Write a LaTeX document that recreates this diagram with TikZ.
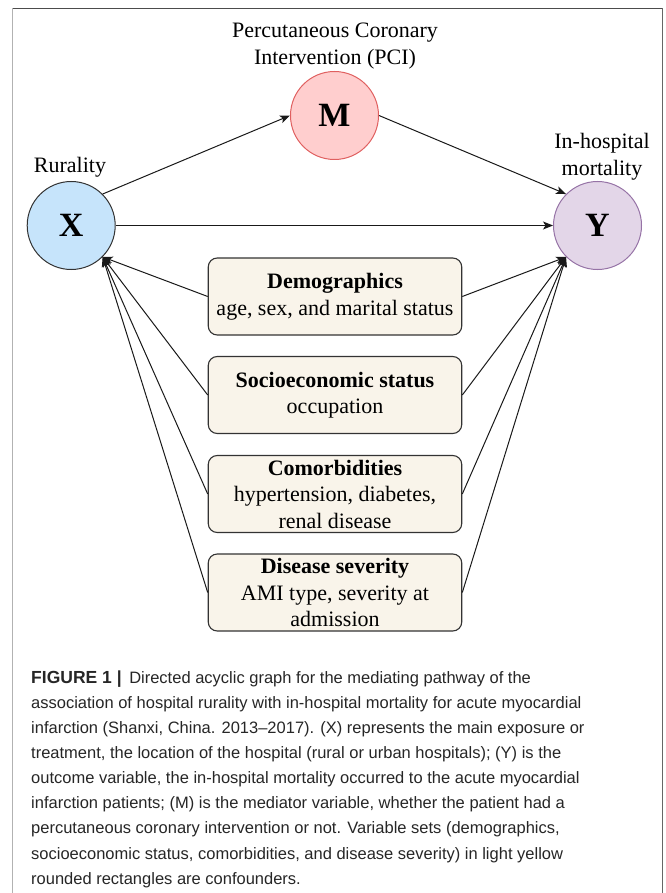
\documentclass[tikz,border=0pt]{standalone}
\usepackage{fontspec}
\setmainfont{Liberation Serif}
\newfontfamily\capfont{Liberation Sans}
\usetikzlibrary{arrows.meta}
\definecolor{xfill}{HTML}{C6E4FB}
\definecolor{xdraw}{HTML}{333333}
\definecolor{mfill}{HTML}{FFCECE}
\definecolor{mdraw}{HTML}{E06060}
\definecolor{yfill}{HTML}{E3D6E8}
\definecolor{ydraw}{HTML}{9673A6}
\definecolor{boxfill}{HTML}{F9F4EA}
\definecolor{boxdraw}{HTML}{333333}
\tikzset{
  varnode/.style={circle, minimum size=88pt, inner sep=0pt, line width=1pt, font=\fontsize{34}{34}\selectfont\bfseries},
  confbox/.style={rectangle, rounded corners=9pt, minimum width=253.5pt, minimum height=77pt, inner sep=0pt, fill=boxfill, draw=boxdraw, line width=1.1pt, align=center, font=\fontsize{22}{26.5}\selectfont},
  lab/.style={align=center, inner sep=0pt, font=\fontsize{22}{26.5}\selectfont},
  arr/.style={line width=1pt, draw=black!90, -{Stealth[length=10pt,width=8pt,inset=2.5pt]}},
}
\begin{document}
\begin{tikzpicture}[x=1pt,y=-1pt]
\useasboundingbox (0,0) rectangle (665,893);
% frame
\draw[line width=1.5pt, draw=black!70] (12,8.5) -- (662.5,8.5);
\draw[line width=1.5pt, draw=black!30] (12.5,8.5) -- (12.5,893);
\draw[line width=1.5pt, draw=black!60] (662.5,8.5) -- (662.5,893);

% variable nodes
\node[varnode, fill=xfill, draw=xdraw] (X) at (71.2,225.5) {X};
\node[varnode, fill=mfill, draw=mdraw] (M) at (334.5,115.5) {M};
\node[varnode, fill=yfill, draw=ydraw] (Y) at (597.5,225.5) {Y};

% labels
\node[lab] (labM) at (335,46) {Percutaneous Coronary\\Intervention (PCI)};
\node[lab] (labX) at (70,167) {Rurality};
\node[lab] (labY) at (602,156.5) {In-hospital\\mortality};

% confounder boxes
\node[confbox] (B1) at (335,296.5) {\textbf{Demographics}\\age, sex, and marital status};
\node[confbox] (B2) at (335,395) {\textbf{Socioeconomic status}\\occupation};
\node[confbox] (B3) at (335,494) {\textbf{Comorbidities}\\hypertension, diabetes,\\renal disease};
\node[confbox] (B4) at (335,592.5) {\textbf{Disease severity}\\AMI type, severity at\\admission};

% edges
\draw[arr] (X.45) -- (M.west);
\draw[arr] (M.east) -- (Y.135);
\draw[arr] (X.east) -- (Y.west);
\foreach \b in {B1,B2,B3,B4}{
  \draw[arr] (\b.west) -- (X.-45);
  \draw[arr] (\b.east) -- (Y.-135);
}

% caption
\node[anchor=north west, inner sep=0pt, align=left, text=black!85,
      font=\capfont\fontsize{16.5}{25.1}\selectfont] (cap) at (31,670.5)
{{\fontsize{17.5}{25.1}\selectfont\textbf{FIGURE 1 |}}\hspace{3pt} Directed acyclic graph for the mediating pathway of the\\
association of hospital rurality with in-hospital mortality for acute myocardial\\
infarction (Shanxi, China. 2013–2017). (X) represents the main exposure or\\
treatment, the location of the hospital (rural or urban hospitals); (Y) is the\\
outcome variable, the in-hospital mortality occurred to the acute myocardial\\
infarction patients; (M) is the mediator variable, whether the patient had a\\
percutaneous coronary intervention or not. Variable sets (demographics,\\
socioeconomic status, comorbidities, and disease severity) in light yellow\\
rounded rectangles are confounders.};
\end{tikzpicture}
\end{document}
